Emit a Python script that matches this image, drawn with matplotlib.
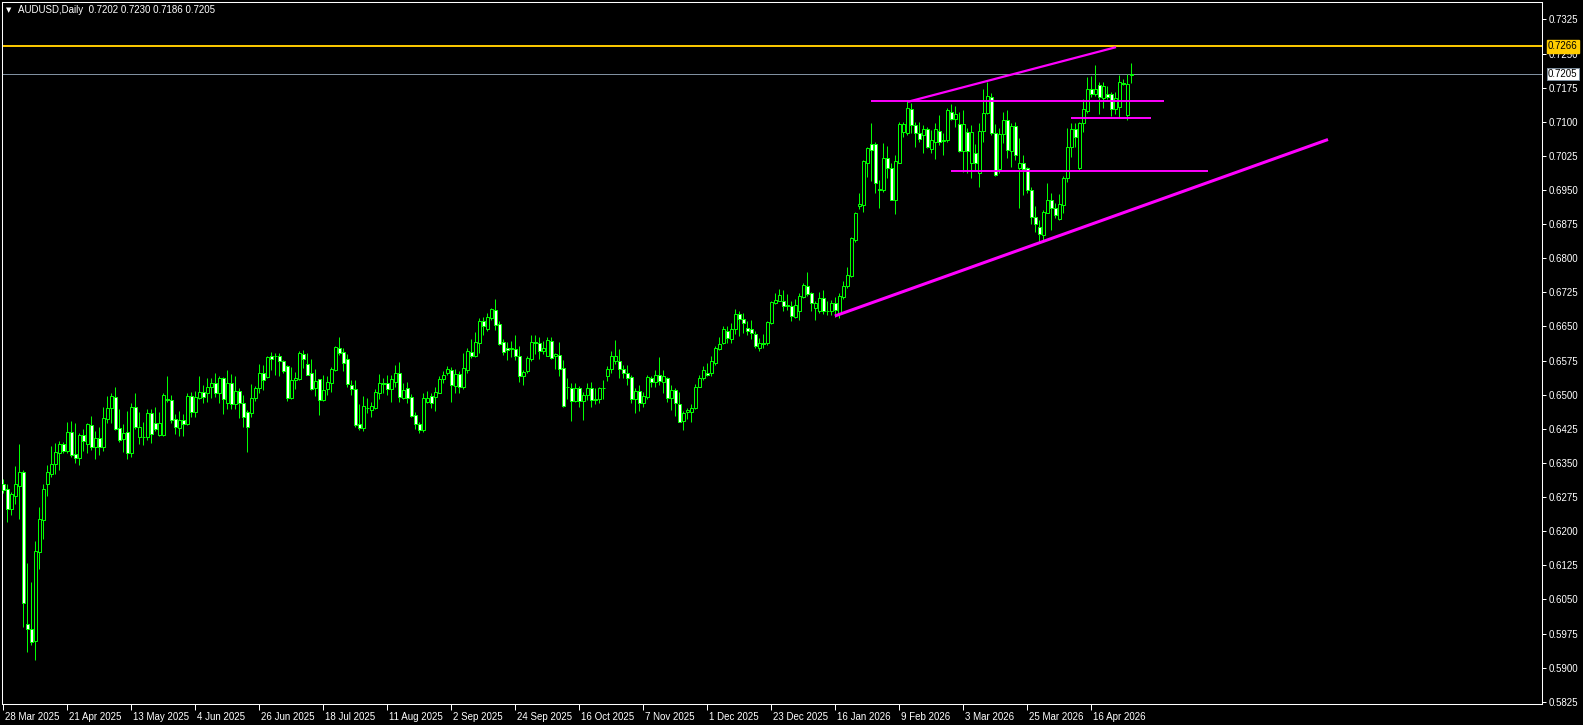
import numpy as np
import matplotlib
matplotlib.use('Agg')
import matplotlib.pyplot as plt
import matplotlib.transforms as mtransforms

# AUDUSD daily candles (one entry per bar)
opens = [
    0.6304, 0.6292, 0.6248, 0.6278, 0.6300, 0.6329, 0.5995, 0.5986, 0.5959, 0.6155,
    0.6225, 0.6304, 0.6326, 0.6348, 0.6371, 0.6391, 0.6376, 0.6417, 0.6369, 0.6361,
    0.6411, 0.6392, 0.6433, 0.6385, 0.6404, 0.6384, 0.6447, 0.6470, 0.6494, 0.6426,
    0.6402, 0.6417, 0.6372, 0.6472, 0.6408, 0.6408, 0.6408, 0.6459, 0.6437, 0.6411,
    0.6411, 0.6490, 0.6488, 0.6446, 0.6426, 0.6444, 0.6436, 0.6497, 0.6462, 0.6492,
    0.6507, 0.6503, 0.6516, 0.6525, 0.6503, 0.6536, 0.6481, 0.6525, 0.6479, 0.6509,
    0.6481, 0.6461, 0.6459, 0.6492, 0.6514, 0.6548, 0.6538, 0.6585, 0.6585, 0.6584,
    0.6573, 0.6562, 0.6492, 0.6532, 0.6535, 0.6590, 0.6567, 0.6547, 0.6514, 0.6534,
    0.6488, 0.6512, 0.6525, 0.6554, 0.6602, 0.6593, 0.6578, 0.6521, 0.6512, 0.6435,
    0.6427, 0.6470, 0.6466, 0.6471, 0.6503, 0.6525, 0.6525, 0.6513, 0.6529, 0.6547,
    0.6493, 0.6514, 0.6494, 0.6456, 0.6436, 0.6422, 0.6483, 0.6497, 0.6494, 0.6504,
    0.6534, 0.6547, 0.6554, 0.6519, 0.6545, 0.6518, 0.6554, 0.6593, 0.6586, 0.6614,
    0.6662, 0.6644, 0.6669, 0.6686, 0.6655, 0.6616, 0.6603, 0.6600, 0.6600, 0.6585,
    0.6540, 0.6551, 0.6578, 0.6615, 0.6613, 0.6597, 0.6586, 0.6618, 0.6584, 0.6587,
    0.6558, 0.6517, 0.6514, 0.6487, 0.6514, 0.6487, 0.6499, 0.6514, 0.6490, 0.6491,
    0.6515, 0.6540, 0.6556, 0.6575, 0.6574, 0.6556, 0.6547, 0.6538, 0.6491, 0.6508,
    0.6481, 0.6496, 0.6536, 0.6527, 0.6543, 0.6529, 0.6536, 0.6493, 0.6510, 0.6479,
    0.6443, 0.6463, 0.6463, 0.6470, 0.6518, 0.6536, 0.6548, 0.6548, 0.6570, 0.6600,
    0.6614, 0.6640, 0.6623, 0.6644, 0.6677, 0.6666, 0.6647, 0.6644, 0.6634, 0.6603,
    0.6613, 0.6614, 0.6657, 0.6701, 0.6707, 0.6705, 0.6697, 0.6696, 0.6670, 0.6683,
    0.6714, 0.6739, 0.6723, 0.6690, 0.6683, 0.6712, 0.6685, 0.6683, 0.6701, 0.6679,
    0.6714, 0.6738, 0.6762, 0.6840, 0.6915, 0.6917, 0.7010, 0.7051, 0.7051, 0.6952,
    0.6949, 0.7021, 0.6998, 0.6929, 0.7010, 0.7077, 0.7076, 0.7127, 0.7093, 0.7075,
    0.7071, 0.7085, 0.7040, 0.7056, 0.7080, 0.7057, 0.7059, 0.7122, 0.7107, 0.7095,
    0.7036, 0.7077, 0.7009, 0.7032, 0.6987, 0.7080, 0.7119, 0.7154, 0.7075, 0.6996,
    0.7072, 0.7104, 0.7036, 0.7091, 0.6998, 0.7009, 0.6998, 0.6950, 0.6891, 0.6869,
    0.6851, 0.6900, 0.6929, 0.6910, 0.6886, 0.6918, 0.6976, 0.7045, 0.7083, 0.6998,
    0.7097, 0.7124, 0.7171, 0.7161, 0.7181, 0.7152, 0.7161, 0.7161, 0.7128, 0.7133,
    0.7186, 0.7115, 0.7202,
]
highs = [
    0.6314, 0.6304, 0.6287, 0.6343, 0.6392, 0.6334, 0.6129, 0.6088, 0.6178, 0.6253,
    0.6304, 0.6345, 0.6387, 0.6393, 0.6398, 0.6396, 0.6440, 0.6442, 0.6437, 0.6416,
    0.6425, 0.6438, 0.6453, 0.6420, 0.6430, 0.6473, 0.6497, 0.6503, 0.6517, 0.6469,
    0.6435, 0.6464, 0.6482, 0.6504, 0.6462, 0.6439, 0.6469, 0.6469, 0.6473, 0.6461,
    0.6504, 0.6541, 0.6499, 0.6458, 0.6464, 0.6457, 0.6504, 0.6505, 0.6508, 0.6541,
    0.6521, 0.6537, 0.6537, 0.6548, 0.6541, 0.6538, 0.6555, 0.6545, 0.6541, 0.6514,
    0.6499, 0.6466, 0.6523, 0.6519, 0.6568, 0.6565, 0.6585, 0.6593, 0.6591, 0.6591,
    0.6576, 0.6565, 0.6560, 0.6549, 0.6595, 0.6598, 0.6591, 0.6578, 0.6556, 0.6535,
    0.6543, 0.6540, 0.6560, 0.6606, 0.6627, 0.6602, 0.6589, 0.6532, 0.6532, 0.6479,
    0.6497, 0.6492, 0.6485, 0.6512, 0.6546, 0.6536, 0.6543, 0.6543, 0.6565, 0.6571,
    0.6525, 0.6527, 0.6502, 0.6462, 0.6441, 0.6503, 0.6508, 0.6503, 0.6518, 0.6541,
    0.6553, 0.6563, 0.6560, 0.6556, 0.6553, 0.6591, 0.6602, 0.6622, 0.6638, 0.6668,
    0.6670, 0.6679, 0.6691, 0.6710, 0.6662, 0.6622, 0.6616, 0.6618, 0.6631, 0.6607,
    0.6554, 0.6585, 0.6631, 0.6631, 0.6626, 0.6618, 0.6626, 0.6626, 0.6591, 0.6616,
    0.6576, 0.6537, 0.6525, 0.6525, 0.6519, 0.6507, 0.6525, 0.6527, 0.6514, 0.6518,
    0.6532, 0.6563, 0.6595, 0.6620, 0.6600, 0.6565, 0.6565, 0.6543, 0.6514, 0.6521,
    0.6507, 0.6543, 0.6541, 0.6554, 0.6582, 0.6554, 0.6538, 0.6521, 0.6514, 0.6507,
    0.6465, 0.6470, 0.6480, 0.6523, 0.6543, 0.6563, 0.6569, 0.6585, 0.6606, 0.6626,
    0.6651, 0.6651, 0.6657, 0.6688, 0.6683, 0.6679, 0.6661, 0.6664, 0.6639, 0.6624,
    0.6634, 0.6663, 0.6706, 0.6723, 0.6732, 0.6730, 0.6721, 0.6705, 0.6710, 0.6724,
    0.6745, 0.6769, 0.6726, 0.6705, 0.6725, 0.6730, 0.6707, 0.6708, 0.6714, 0.6723,
    0.6749, 0.6780, 0.6846, 0.6901, 0.6943, 0.7017, 0.7045, 0.7097, 0.7056, 0.6973,
    0.7053, 0.7047, 0.7009, 0.7027, 0.7100, 0.7100, 0.7148, 0.7142, 0.7100, 0.7099,
    0.7093, 0.7089, 0.7082, 0.7098, 0.7115, 0.7076, 0.7130, 0.7139, 0.7135, 0.7122,
    0.7126, 0.7086, 0.7093, 0.7051, 0.7097, 0.7171, 0.7188, 0.7163, 0.7095, 0.7086,
    0.7122, 0.7126, 0.7098, 0.7100, 0.7065, 0.7027, 0.7001, 0.6957, 0.6915, 0.6884,
    0.6906, 0.6965, 0.6943, 0.6921, 0.6941, 0.6981, 0.7087, 0.7097, 0.7097, 0.7099,
    0.7149, 0.7199, 0.7201, 0.7225, 0.7188, 0.7188, 0.7179, 0.7166, 0.7166, 0.7203,
    0.7193, 0.7206, 0.7230,
]
lows = [
    0.6283, 0.6221, 0.6236, 0.6260, 0.6227, 0.5989, 0.5935, 0.5950, 0.5917, 0.6117,
    0.6183, 0.6278, 0.6318, 0.6325, 0.6335, 0.6371, 0.6371, 0.6364, 0.6350, 0.6345,
    0.6377, 0.6371, 0.6379, 0.6359, 0.6367, 0.6376, 0.6438, 0.6437, 0.6422, 0.6396,
    0.6373, 0.6359, 0.6364, 0.6424, 0.6392, 0.6390, 0.6400, 0.6393, 0.6421, 0.6409,
    0.6409, 0.6485, 0.6437, 0.6413, 0.6409, 0.6409, 0.6434, 0.6450, 0.6452, 0.6490,
    0.6481, 0.6484, 0.6492, 0.6496, 0.6481, 0.6458, 0.6469, 0.6468, 0.6469, 0.6448,
    0.6428, 0.6375, 0.6452, 0.6487, 0.6503, 0.6510, 0.6536, 0.6554, 0.6543, 0.6540,
    0.6548, 0.6487, 0.6490, 0.6512, 0.6532, 0.6558, 0.6543, 0.6510, 0.6497, 0.6455,
    0.6487, 0.6499, 0.6507, 0.6551, 0.6587, 0.6553, 0.6518, 0.6499, 0.6430, 0.6422,
    0.6421, 0.6459, 0.6452, 0.6468, 0.6490, 0.6503, 0.6499, 0.6485, 0.6518, 0.6485,
    0.6490, 0.6482, 0.6452, 0.6425, 0.6416, 0.6417, 0.6482, 0.6471, 0.6465, 0.6503,
    0.6525, 0.6543, 0.6485, 0.6503, 0.6503, 0.6512, 0.6548, 0.6581, 0.6582, 0.6592,
    0.6631, 0.6641, 0.6664, 0.6642, 0.6609, 0.6587, 0.6576, 0.6582, 0.6576, 0.6529,
    0.6521, 0.6548, 0.6573, 0.6589, 0.6578, 0.6589, 0.6584, 0.6579, 0.6556, 0.6541,
    0.6474, 0.6491, 0.6443, 0.6483, 0.6474, 0.6444, 0.6488, 0.6474, 0.6480, 0.6481,
    0.6491, 0.6531, 0.6547, 0.6567, 0.6536, 0.6536, 0.6521, 0.6482, 0.6460, 0.6465,
    0.6472, 0.6491, 0.6518, 0.6518, 0.6521, 0.6504, 0.6485, 0.6466, 0.6453, 0.6439,
    0.6422, 0.6446, 0.6439, 0.6468, 0.6516, 0.6532, 0.6540, 0.6540, 0.6565, 0.6598,
    0.6612, 0.6613, 0.6613, 0.6634, 0.6628, 0.6635, 0.6631, 0.6622, 0.6602, 0.6595,
    0.6602, 0.6609, 0.6655, 0.6699, 0.6705, 0.6685, 0.6686, 0.6661, 0.6668, 0.6664,
    0.6712, 0.6716, 0.6683, 0.6664, 0.6679, 0.6677, 0.6675, 0.6675, 0.6671, 0.6668,
    0.6710, 0.6734, 0.6759, 0.6836, 0.6908, 0.6902, 0.6979, 0.6970, 0.6943, 0.6910,
    0.6946, 0.6976, 0.6927, 0.6897, 0.7009, 0.7066, 0.7071, 0.7076, 0.7045, 0.7056,
    0.7031, 0.7042, 0.7031, 0.7018, 0.7050, 0.7027, 0.7056, 0.7104, 0.7088, 0.7034,
    0.6990, 0.6987, 0.6976, 0.6994, 0.6957, 0.7056, 0.7117, 0.7071, 0.6981, 0.6988,
    0.7053, 0.7020, 0.7001, 0.7016, 0.6911, 0.6939, 0.6944, 0.6875, 0.6858, 0.6833,
    0.6840, 0.6899, 0.6861, 0.6888, 0.6884, 0.6900, 0.6968, 0.7023, 0.7045, 0.6994,
    0.7078, 0.7119, 0.7155, 0.7157, 0.7117, 0.7130, 0.7149, 0.7113, 0.7117, 0.7108,
    0.7181, 0.7104, 0.7186,
]
closes = [
    0.6290, 0.6249, 0.6281, 0.6303, 0.6329, 0.6041, 0.5986, 0.5957, 0.6156, 0.6226,
    0.6292, 0.6329, 0.6348, 0.6373, 0.6391, 0.6376, 0.6417, 0.6367, 0.6360, 0.6411,
    0.6399, 0.6435, 0.6384, 0.6404, 0.6384, 0.6448, 0.6470, 0.6497, 0.6425, 0.6400,
    0.6415, 0.6372, 0.6472, 0.6430, 0.6428, 0.6406, 0.6459, 0.6414, 0.6424, 0.6437,
    0.6499, 0.6488, 0.6444, 0.6428, 0.6444, 0.6435, 0.6497, 0.6463, 0.6494, 0.6507,
    0.6496, 0.6518, 0.6525, 0.6503, 0.6536, 0.6490, 0.6525, 0.6479, 0.6509, 0.6482,
    0.6450, 0.6428, 0.6492, 0.6514, 0.6547, 0.6532, 0.6582, 0.6579, 0.6584, 0.6573,
    0.6553, 0.6492, 0.6532, 0.6536, 0.6592, 0.6579, 0.6543, 0.6512, 0.6530, 0.6488,
    0.6510, 0.6527, 0.6556, 0.6605, 0.6591, 0.6569, 0.6523, 0.6512, 0.6433, 0.6426,
    0.6475, 0.6470, 0.6475, 0.6505, 0.6525, 0.6524, 0.6513, 0.6534, 0.6547, 0.6496,
    0.6510, 0.6492, 0.6454, 0.6436, 0.6422, 0.6492, 0.6492, 0.6482, 0.6507, 0.6534,
    0.6543, 0.6556, 0.6521, 0.6545, 0.6518, 0.6558, 0.6595, 0.6586, 0.6615, 0.6662,
    0.6651, 0.6670, 0.6688, 0.6654, 0.6611, 0.6594, 0.6598, 0.6603, 0.6584, 0.6542,
    0.6549, 0.6580, 0.6615, 0.6614, 0.6597, 0.6603, 0.6620, 0.6581, 0.6589, 0.6556,
    0.6475, 0.6518, 0.6487, 0.6514, 0.6487, 0.6499, 0.6514, 0.6488, 0.6489, 0.6514,
    0.6514, 0.6556, 0.6585, 0.6586, 0.6556, 0.6547, 0.6537, 0.6491, 0.6508, 0.6481,
    0.6497, 0.6538, 0.6529, 0.6543, 0.6531, 0.6541, 0.6493, 0.6510, 0.6481, 0.6441,
    0.6459, 0.6466, 0.6470, 0.6518, 0.6536, 0.6554, 0.6544, 0.6575, 0.6602, 0.6612,
    0.6644, 0.6625, 0.6644, 0.6677, 0.6666, 0.6657, 0.6640, 0.6635, 0.6606, 0.6613,
    0.6612, 0.6659, 0.6703, 0.6708, 0.6719, 0.6694, 0.6695, 0.6674, 0.6697, 0.6717,
    0.6741, 0.6721, 0.6701, 0.6701, 0.6712, 0.6683, 0.6684, 0.6701, 0.6686, 0.6717,
    0.6739, 0.6763, 0.6844, 0.6899, 0.6919, 0.7014, 0.7042, 0.7038, 0.6965, 0.6950,
    0.7021, 0.6998, 0.6928, 0.7014, 0.7094, 0.7094, 0.7130, 0.7093, 0.7075, 0.7061,
    0.7085, 0.7044, 0.7060, 0.7085, 0.7056, 0.7059, 0.7126, 0.7107, 0.7118, 0.7036,
    0.7095, 0.7036, 0.7077, 0.7009, 0.7080, 0.7119, 0.7157, 0.7075, 0.6983, 0.7072,
    0.7104, 0.7038, 0.7091, 0.7027, 0.7009, 0.6996, 0.6950, 0.6891, 0.6875, 0.6853,
    0.6902, 0.6929, 0.6911, 0.6895, 0.6919, 0.6976, 0.7044, 0.7083, 0.7067, 0.7097,
    0.7127, 0.7171, 0.7162, 0.7171, 0.7154, 0.7179, 0.7154, 0.7128, 0.7152, 0.7188,
    0.7183, 0.7183, 0.7205,
]

# time axis labels (one every 16 bars, as MT4 draws them)
date_labels = ['28 Mar 2025', '21 Apr 2025', '13 May 2025', '4 Jun 2025', '26 Jun 2025',
               '18 Jul 2025', '11 Aug 2025', '2 Sep 2025', '24 Sep 2025', '16 Oct 2025',
               '7 Nov 2025', '1 Dec 2025', '23 Dec 2025', '16 Jan 2026', '9 Feb 2026',
               '3 Mar 2026', '25 Mar 2026', '16 Apr 2026']

# drawn objects: (bar, price) end points
trend_lower_bars = [207.9, 331.2]
trend_lower_prices = [0.6673, 0.7061]
trend_upper_bars = [226.2, 278.2]
trend_upper_prices = [0.7144, 0.7264]
level_prices = [0.7146, 0.7109, 0.6992]
level_from_bars = [216.9, 266.9, 237.0]
level_to_bars = [290.1, 287.0, 301.2]
hline_price = 0.7266
bid_price = 0.7205

lime = '#00FF00'
magenta = '#FF00FF'

plt.rcParams['font.family'] = ['Liberation Sans', 'DejaVu Sans']

o = np.array(opens)
h = np.array(highs)
l = np.array(lows)
c = np.array(closes)
x = np.arange(len(o))

fig = plt.figure(figsize=(15.83, 7.25), dpi=100, facecolor='black')
ax = fig.add_axes([2.3 / 1583, (725 - 704.3) / 725, (1542 - 2.3) / 1583, (704.3 - 2.3) / 725])
ax.set_facecolor('black')

#wicks first, bodies on top
ax.vlines(x, np.minimum(l, np.minimum(o, c)), np.maximum(h, np.maximum(o, c)),
          color=lime, linewidth=0.72, zorder=2)
up = c >= o
body_h = np.maximum(np.abs(c - o), 0.00003)
ax.bar(x, body_h, bottom=np.minimum(o, c), width=0.75,
       color=np.where(up, 'black', 'white'), edgecolor=lime, linewidth=0.72, zorder=3)

# horizontal price lines
ax.axhline(hline_price, color='#FFCC00', linewidth=1.4, zorder=1)
ax.axhline(bid_price, color='#8090A0', linewidth=0.72, zorder=1)

# trend lines and levels
ax.plot(trend_lower_bars, trend_lower_prices, color=magenta, linewidth=2.2,
        solid_capstyle='butt', zorder=4)
ax.plot(trend_upper_bars, trend_upper_prices, color=magenta, linewidth=1.6,
        solid_capstyle='butt', zorder=4)
ax.hlines(level_prices, level_from_bars, level_to_bars, color=magenta, linewidth=1.4, zorder=4)

ax.set_xlim(-0.25, 384.7)
ax.set_ylim(0.58194, 0.73626)

for s in ax.spines.values():
    s.set_color('white')
    s.set_linewidth(0.75)

# price scale on the right
price_ticks = [0.7325 - 0.0075 * k for k in range(21)]
ax.yaxis.tick_right()
ax.set_yticks(price_ticks)
ax.set_yticklabels([f'{v:.4f}' for v in price_ticks])
ax.tick_params(axis='y', colors='white', labelsize=7, length=3, width=0.72, pad=2)

# time scale
ax.set_xticks(np.arange(len(date_labels)) * 16)
ax.set_xticklabels(date_labels, ha='left')
ax.tick_params(axis='x', colors='white', labelsize=7, length=4, width=0.72, pad=1.5)
shift = mtransforms.ScaledTranslation(2 / 100, 0, fig.dpi_scale_trans)
for lab in ax.get_xticklabels():
    lab.set_transform(lab.get_transform() + shift)

# price tags on the scale
trans = mtransforms.blended_transform_factory(ax.transAxes, ax.transData)
ax.text(1.0039, hline_price, f'{hline_price:.4f}', transform=trans, ha='left', va='center',
        fontsize=7, color='black', clip_on=False, zorder=6,
        bbox=dict(boxstyle='square,pad=0.15', fc='#FFCC00', ec='#FFCC00'))
ax.text(1.0039, bid_price, f'{bid_price:.4f}', transform=trans, ha='left', va='center',
        fontsize=7, color='black', clip_on=False, zorder=6,
        bbox=dict(boxstyle='square,pad=0.15', fc='white', ec='#8090A0', lw=0.7))

# header: symbol, timeframe and last bar OHLC
fig.text(6 / 1583, 1 - 10 / 725, '\u25BC', fontsize=5, color='white', va='center',
         family='DejaVu Sans')
fig.text(18.3 / 1583, 1 - 10 / 725,
         f'AUDUSD,Daily  {o[-1]:.4f} {h[-1]:.4f} {l[-1]:.4f} {c[-1]:.4f}',
         fontsize=7, color='white', va='center')

fig.savefig('out.png', dpi=100, facecolor='black')
